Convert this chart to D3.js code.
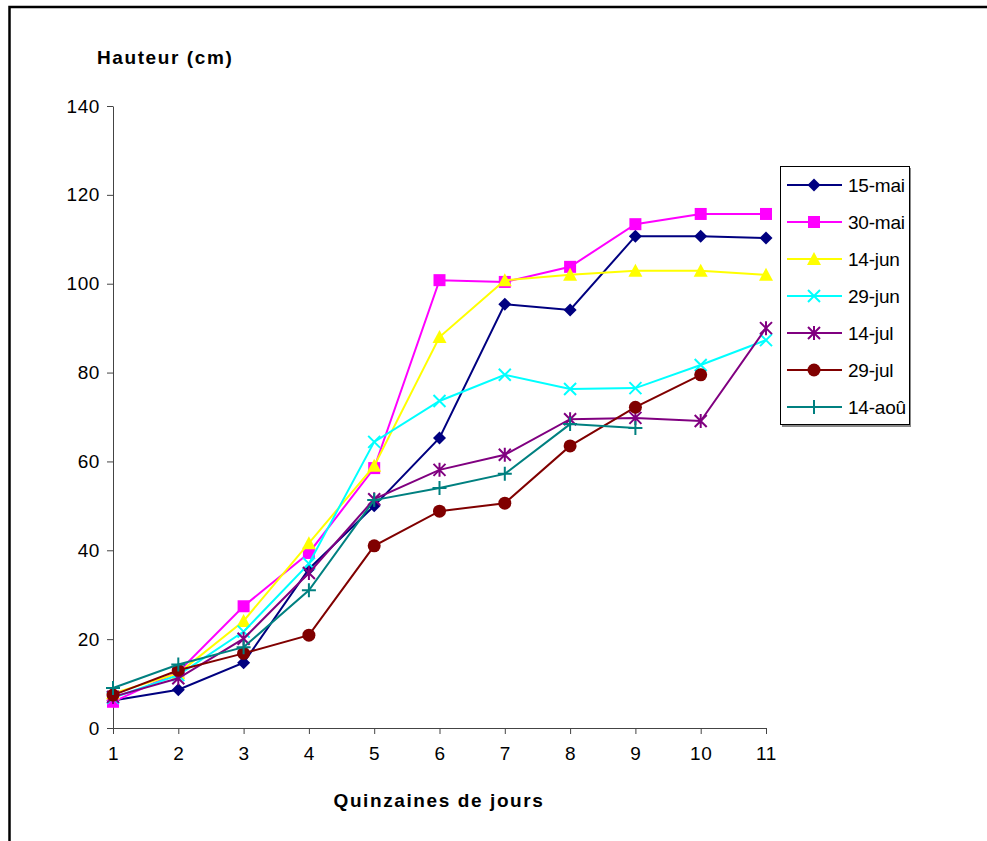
<!DOCTYPE html>
<html>
<head>
<meta charset="utf-8">
<script src="https://cdn.jsdelivr.net/npm/d3@7"></script>
<style>
  body { margin: 0; background: #fff; }
  svg { display: block; font-family: "Liberation Sans", Arial, sans-serif; }
</style>
</head>
<body>
<div class="chart"></div>
<script>
// quinzaines
const xValues = [1, 2, 3, 4, 5, 6, 7, 8, 9, 10, 11];
const yTicks = [0, 20, 40, 60, 80, 100, 120, 140];

const seriesNames = ["15-mai", "30-mai", "14-jun", "29-jun", "14-jul", "29-jul", "14-aoû"];
const seriesColors = ["#000080", "#ff00ff", "#ffff00", "#00ffff", "#800080", "#800000", "#008080"];
const seriesMarkers = ["diamond", "square", "triangle", "x", "star", "circle", "plus"];

const mai15 = [6.2, 8.6, 14.7, 35.8, 50, 65.3, 95.4, 94.1, 110.7, 110.7, 110.3];
const mai30 = [5.9, 12.6, 27.4, 39.4, 58.5, 100.8, 100.4, 103.8, 113.4, 115.7, 115.7];
const jun14 = [7.8, 12.3, 24.1, 41.6, 59, 88, 100.8, 102, 102.9, 102.9, 102];
const jun29 = [6.8, 11.9, 21.7, 37, 64.4, 73.6, 79.5, 76.3, 76.5, 81.7, 87.3];
const jul14 = [7, 11.2, 20.1, 34.9, 51.5, 58.1, 61.5, 69.5, 69.8, 69.1, 90];
const jul29 = [7.4, 13, 16.8, 20.9, 41, 48.8, 50.6, 63.5, 72.2, 79.5, null];
const aou14 = [9.0, 14.3, 18.2, 31, 51.3, 54, 57.2, 68.4, 67.5, null, null];

const seriesValues = [mai15, mai30, jun14, jun29, jul14, jul29, aou14];

function init() {
    const w = 987;
    const h = 841;

    const svg = d3.select(".chart")
        .append("svg")
        .attr("width", w)
        .attr("height", h);

    // outer frame (runs off the right and bottom)
    svg.append("path")
        .attr("d", "M9.5,1000 L9.5,7 L1000,7")
        .attr("fill", "none")
        .attr("stroke", "#000")
        .attr("stroke-width", 2.5);

    const x = d3.scaleLinear().domain([1, 11]).range([113, 766]);
    const y = d3.scaleLinear().domain([0, 140]).range([728, 106]);

    // y axis
    const yAxis = svg.append("g")
        .attr("transform", "translate(113,0)")
        .call(d3.axisLeft(y).tickValues(yTicks).tickSize(6).tickPadding(7).tickSizeOuter(0));
    // x axis
    const xAxis = svg.append("g")
        .attr("transform", "translate(0,728)")
        .call(d3.axisBottom(x).tickValues(xValues).tickSize(6).tickPadding(13).tickSizeOuter(0));

    [yAxis, xAxis].forEach(a => {
        a.select(".domain").attr("stroke", "#444").attr("stroke-width", 1);
        a.selectAll(".tick line").attr("stroke", "#444");
        a.selectAll("text")
            .attr("fill", "#000")
            .style("font-size", "19px")
            .style("letter-spacing", "0.6px")
            .style("font-family", "'Liberation Sans', Arial, sans-serif");
    });

    svg.append("text")
        .attr("x", 97)
        .attr("y", 64)
        .style("font-size", "19px")
        .style("font-weight", "bold")
        .style("letter-spacing", "1.6px")
        .text("Hauteur (cm)");

    svg.append("text")
        .attr("x", 439)
        .attr("y", 807)
        .attr("text-anchor", "middle")
        .style("font-size", "19px")
        .style("font-weight", "bold")
        .style("letter-spacing", "1.6px")
        .text("Quinzaines de jours");

    function drawMarker(g, type, color) {
        if (type === "diamond") {
            g.append("path").attr("d", "M0,-6.5L6.5,0L0,6.5L-6.5,0Z").attr("fill", color);
        } else if (type === "square") {
            g.append("rect").attr("x", -6).attr("y", -6).attr("width", 12).attr("height", 12).attr("fill", color);
        } else if (type === "triangle") {
            g.append("path").attr("d", "M0,-7L7,6L-7,6Z").attr("fill", color);
        } else if (type === "x") {
            g.append("path").attr("d", "M-6,-6L6,6M-6,6L6,-6").attr("stroke", color).attr("stroke-width", 2);
        } else if (type === "star") {
            g.append("path").attr("d", "M-6,-6L6,6M-6,6L6,-6M0,-7L0,7").attr("stroke", color).attr("stroke-width", 2);
        } else if (type === "circle") {
            g.append("circle").attr("r", 6.5).attr("fill", color);
        } else if (type === "plus") {
            g.append("path").attr("d", "M-7,0L7,0M0,-7L0,7").attr("stroke", color).attr("stroke-width", 2);
        }
    }

    const line = d3.line()
        .defined(d => d != null)
        .x((d, i) => x(xValues[i]))
        .y(d => y(d));

    seriesValues.forEach((vals, s) => {
        const color = seriesColors[s];
        svg.append("path")
            .attr("d", line(vals))
            .attr("fill", "none")
            .attr("stroke", color)
            .attr("stroke-width", 2);

        vals.forEach((v, i) => {
            if (v == null) return;
            const g = svg.append("g")
                .attr("transform", `translate(${x(xValues[i])},${y(v)})`);
            drawMarker(g, seriesMarkers[s], color);
        });
    });

    // legend
    const legend = svg.append("g");
    legend.append("rect")
        .attr("x", 782).attr("y", 168)
        .attr("width", 129).attr("height", 259)
        .attr("fill", "#888");
    legend.append("rect")
        .attr("x", 780.5).attr("y", 166.5)
        .attr("width", 129).attr("height", 258)
        .attr("fill", "#fff")
        .attr("stroke", "#000")
        .attr("stroke-width", 1);

    seriesNames.forEach((name, s) => {
        const ly = 185 + s * 37;
        legend.append("line")
            .attr("x1", 787).attr("x2", 842)
            .attr("y1", ly).attr("y2", ly)
            .attr("stroke", seriesColors[s])
            .attr("stroke-width", 2);
        const g = legend.append("g").attr("transform", `translate(814,${ly})`);
        drawMarker(g, seriesMarkers[s], seriesColors[s]);
        legend.append("text")
            .attr("x", 848)
            .attr("y", ly + 7)
            .style("font-size", "19px")
            .style("letter-spacing", "-0.2px")
            .text(name);
    });
}

window.onload = init;
</script>
</body>
</html>
